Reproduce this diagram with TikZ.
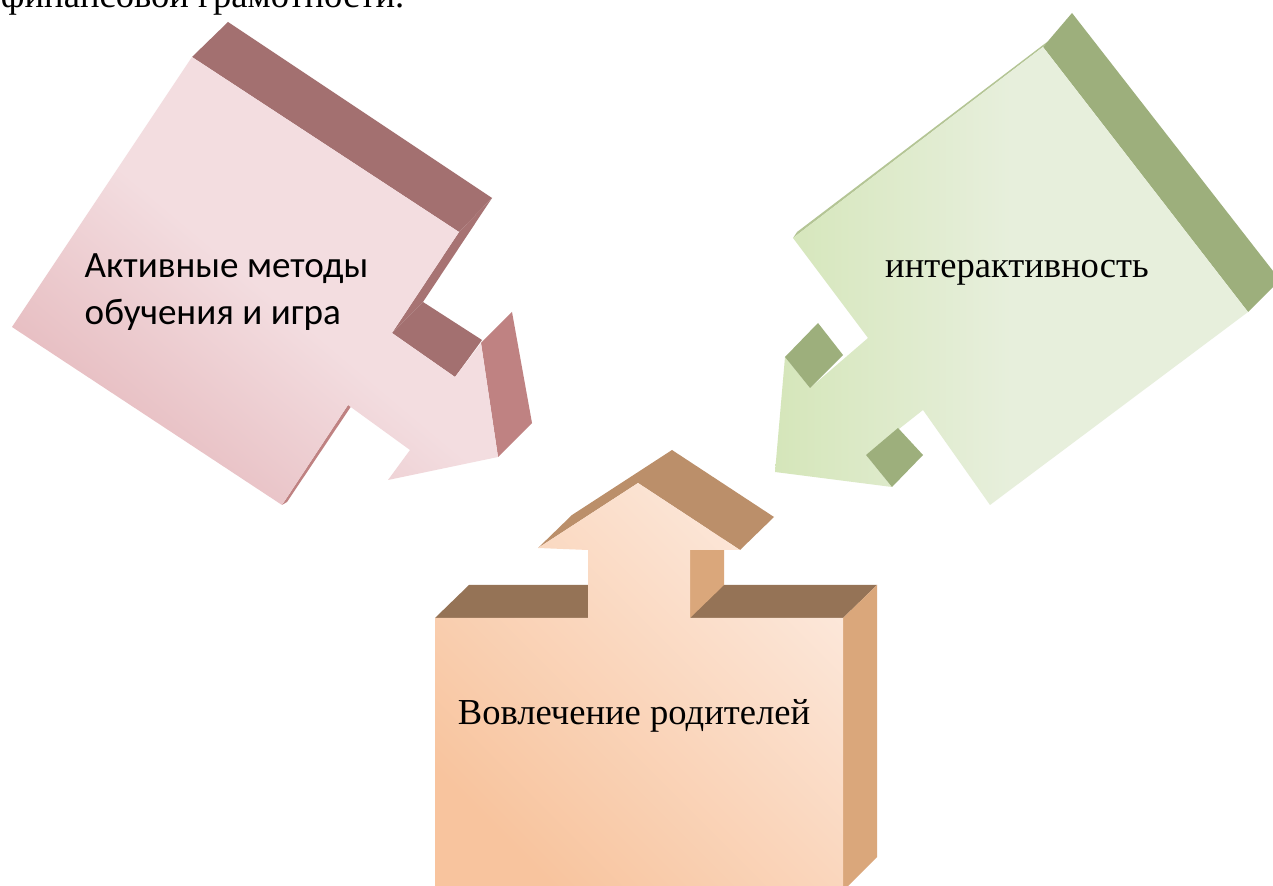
\documentclass[tikz,border=0pt]{standalone}
\usepackage{fontspec}
\setmainfont{Liberation Serif}
\newfontfamily\labelsans{Carlito}
\definecolor{pinkTop}{HTML}{A37070}
\definecolor{pinkSide}{HTML}{BF8282}
\definecolor{pinkLight}{HTML}{F3DDE0}
\definecolor{pinkEdge}{HTML}{E5B9BD}
\definecolor{greenTop}{HTML}{9DAF7C}
\definecolor{greenLight}{HTML}{E7EFDC}
\definecolor{greenEdge}{HTML}{D5E6BA}
\definecolor{tanTop}{HTML}{957356}
\definecolor{tanHead}{HTML}{BB8F6A}
\definecolor{tanSide}{HTML}{DAA77B}
\definecolor{peachLight}{HTML}{FCE8DB}
\definecolor{peachEdge}{HTML}{F8C49E}
\begin{document}
\begin{tikzpicture}[x=0.01cm, y=-0.01cm,
        serif label/.style={inner sep=0pt, font=\fontsize{10.4}{12.5}\selectfont},
        pink front/.style={top color=pinkLight, bottom color=pinkEdge, middle color=pinkLight, shading angle=-40},
        green front/.style={left color=greenEdge, right color=greenLight, middle color=greenLight},
        peach front/.style={top color=peachLight, bottom color=peachEdge, shading angle=-45}]
            \useasboundingbox (0,0) rectangle (1273,886);
            \fill[white] (0,0) rectangle (1273,886);
            \node[serif label, anchor=base east] (topline) at (405,8) {финансовой грамотности.};
            % left arrow
            \fill[pinkTop] (192,57) -- (228,22) -- (492,198) -- (459,232) -- cycle;
            \fill[pinkTop!85!pinkSide] (459,232) -- (492,198) -- (423,302) -- (392,333) -- cycle;
            \fill[pinkTop] (392,333) -- (423,302) -- (482,340) -- (455,377) -- cycle;
            \fill[pinkSide] (481,343) -- (512,312) -- (532,423) -- (498,457) -- cycle;
            \fill[pinkSide] (348,405) -- (354,402) -- (287,502) -- (282,505) -- cycle;
            \shade[pink front] (192,57) -- (459,232) -- (392,333) -- (455,377) -- (481,343) -- (498,457)
                -- (388,480) -- (410,450) -- (348,405) -- (282,505) -- (12,327) -- cycle;
            \node[anchor=base west, align=left, inner sep=0pt, font=\labelsans\fontsize{10.55}{13.6}\selectfont] (activ) at (84,325) {Активные методы\\обучения и игра};
            % right arrow
            \fill[greenTop] (1043,47) -- (1072,13) -- (1280,280) -- (1248,312) -- cycle;
            \fill[greenTop!60!greenEdge] (793,238) -- (1043,47) -- (1047,42) -- (797,232) -- cycle;
            \shade[green front] (1043,47) -- (1248,312) -- (990,505) -- (923,410) -- (866,455) -- (892,487)
                -- (775,472) -- (785,357) -- (810,388) -- (868,338) -- (793,238) -- cycle;
            \fill[greenTop] (785,357) -- (818,323) -- (843,355) -- (810,388) -- cycle;
            \fill[greenTop] (866,455) -- (898,428) -- (923,455) -- (892,487) -- cycle;
            \node[serif label, anchor=base] (inter) at (1017,278) {интерактивность};
            % bottom arrow
            \fill[tanTop] (435,618) -- (469,585) -- (877,585) -- (843,618) -- cycle;
            \fill[tanSide] (843,618) -- (877,585) -- (877,857) -- (843,891) -- cycle;
            \fill[tanSide] (690,618) -- (724,585) -- (724,517) -- (690,550) -- cycle;
            \fill[tanHead] (538,548) -- (572,515) -- (672,450) -- (774,517) -- (740,550) -- (638,483) -- cycle;
            \shade[peach front] (435,891) -- (435,618) -- (588,618) -- (588,550) -- (538,548) -- (638,483)
                -- (740,550) -- (690,550) -- (690,618) -- (843,618) -- (843,891) -- cycle;
            \node[serif label, anchor=base] (parents) at (634,725) {Вовлечение родителей};
        \end{tikzpicture}
\end{document}
